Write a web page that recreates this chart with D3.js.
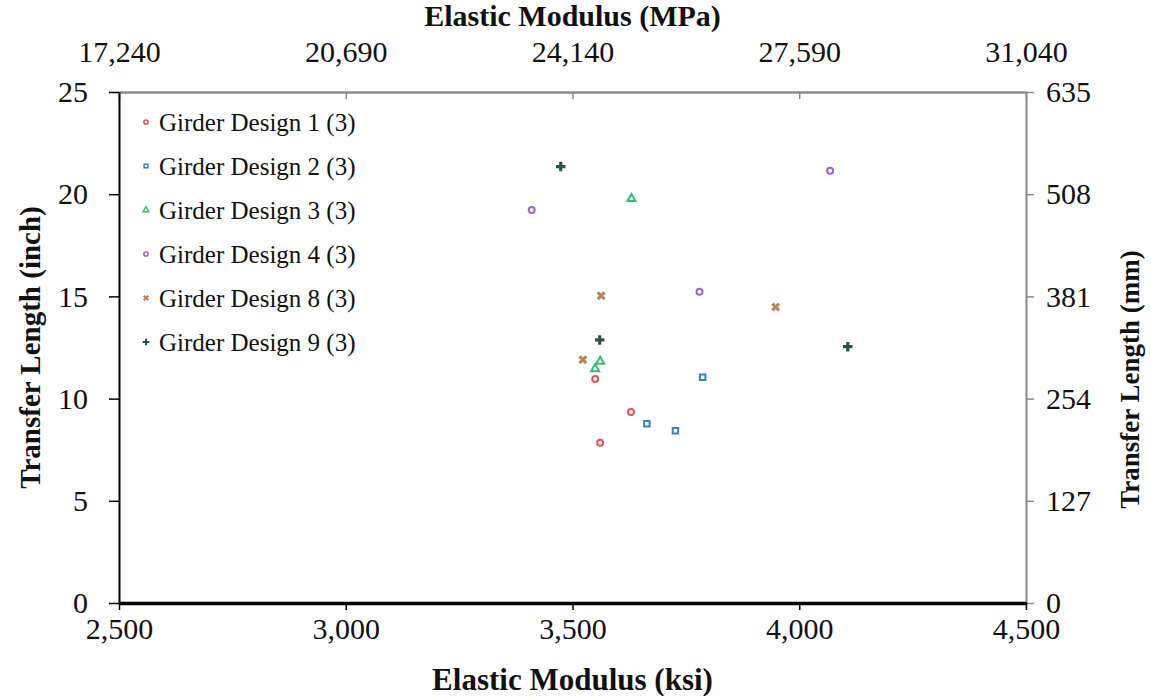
<!DOCTYPE html>
<html>
<head>
<meta charset="utf-8">
<script src="https://cdn.jsdelivr.net/npm/d3@7"></script>
<style>
  body { margin: 0; background: #fff; }
  text { font-family: "Liberation Serif", "Times New Roman", serif; fill: #111; }
</style>
</head>
<body>
<div id="chart"></div>
<script>
// series names and values (ksi, inch)
const seriesNames = ["Girder Design 1 (3)", "Girder Design 2 (3)", "Girder Design 3 (3)",
                     "Girder Design 4 (3)", "Girder Design 8 (3)", "Girder Design 9 (3)"];
const design1 = [[3550, 10.96], [3629, 9.34], [3561, 7.84]];
const design2 = [[3787, 11.04], [3664, 8.77], [3727, 8.43]];
const design3 = [[3630, 19.78], [3561, 11.82], [3550, 11.45]];
const design4 = [[4068, 21.15], [3410, 19.23], [3780, 15.23]];
const design8 = [[3563, 15.03], [3948, 14.48], [3523, 11.9]];
const design9 = [[3474, 21.35], [3560, 12.87], [4107, 12.54]];
const ksiTicks = [2500, 3000, 3500, 4000, 4500];
const mpaTicks = [17240, 20690, 24140, 27590, 31040];
const inchTicks = [0, 5, 10, 15, 20, 25];
const mmTicks = [0, 127, 254, 381, 508, 635];

const allSeries = [design1, design2, design3, design4, design8, design9];
const colors = ["#e0505e", "#3a80c0", "#3cb878", "#9268c0", "#b8835c", "#2f4f4f"];
const symbols = [d3.symbolCircle, d3.symbolSquare, d3.symbolTriangle, d3.symbolCircle, d3.symbolCross, d3.symbolCross];

const W = 1151, H = 696;
const margin = { top: 92, right: 125, bottom: 93, left: 119 };
const width = W - margin.left - margin.right;   // 907
const height = H - margin.top - margin.bottom;  // 511

const svg = d3.select("#chart").append("svg")
    .attr("width", W).attr("height", H);
const g = svg.append("g").attr("transform", `translate(${margin.left},${margin.top})`);

let x = d3.scaleLinear().domain([2500, 4500]).range([0, width]);
let xTop = d3.scaleLinear().domain([17240, 31040]).range([0, width]);
let y = d3.scaleLinear().domain([0, 25]).range([height, 0]);
let yRight = d3.scaleLinear().domain([0, 635]).range([height, 0]);

const fmt = d3.format(",");

function styleAxis(sel, color, lineW) {
    sel.select(".domain").attr("stroke", color).attr("stroke-width", lineW);
    sel.selectAll(".tick line").attr("stroke", color).attr("stroke-width", 1.5);
    sel.selectAll(".tick text")
        .style("font-family", "'Liberation Serif', serif")
        .style("font-size", "30px")
        .attr("fill", "#111");
}

// top axis (gray, ticks pointing inward)
g.append("g")
    .call(d3.axisTop(xTop).tickValues(mpaTicks).tickFormat(fmt).tickSizeInner(-7).tickSizeOuter(0).tickPadding(30))
    .call(s => styleAxis(s, "#8a8a8a", 2.5));

// right axis (gray)
g.append("g").attr("transform", `translate(${width},0)`)
    .call(d3.axisRight(yRight).tickValues(mmTicks).tickSize(8).tickSizeOuter(0).tickPadding(12))
    .call(s => styleAxis(s, "#8a8a8a", 2));

// left axis (black)
g.append("g")
    .call(d3.axisLeft(y).tickValues(inchTicks).tickSize(10).tickSizeOuter(0).tickPadding(21))
    .call(s => styleAxis(s, "#000", 2));

// bottom axis (black, thick)
g.append("g").attr("transform", `translate(0,${height})`)
    .call(d3.axisBottom(x).tickValues(ksiTicks).tickFormat(fmt).tickSize(7).tickSizeOuter(0).tickPadding(8))
    .call(s => styleAxis(s, "#000", 3.5));

// axis titles
svg.append("text")
    .attr("x", margin.left + width / 2).attr("y", 26)
    .attr("text-anchor", "middle")
    .style("font-size", "30px").style("font-weight", "bold")
    .text("Elastic Modulus (MPa)");

svg.append("text")
    .attr("x", margin.left + width / 2).attr("y", 690)
    .attr("text-anchor", "middle")
    .style("font-size", "31px").style("font-weight", "bold")
    .text("Elastic Modulus (ksi)");

svg.append("text")
    .attr("transform", `translate(40,${margin.top + height / 2}) rotate(-90)`)
    .attr("text-anchor", "middle")
    .style("font-size", "29px").style("font-weight", "bold")
    .text("Transfer Length (inch)");

svg.append("text")
    .attr("transform", `translate(1139,${margin.top + height / 2 + 32}) rotate(-90)`)
    .attr("text-anchor", "middle")
    .style("font-size", "27px").style("font-weight", "bold")
    .text("Transfer Length (mm)");

// points
allSeries.forEach((data, i) => {
    let size = i === 1 ? 30 : (i >= 4 ? 50 : 28);
    g.selectAll(".pt" + i)
        .data(data)
        .enter()
        .append("path")
        .attr("class", "pt" + i)
        .attr("transform", d => `translate(${x(d[0])},${y(d[1])})${i === 4 ? " rotate(45)" : ""}`)
        .attr("d", d3.symbol().type(symbols[i]).size(size))
        .attr("fill", i >= 4 ? colors[i] : "none")
        .attr("stroke", colors[i])
        .attr("stroke-width", i >= 4 ? 0 : 2);
});

// legend
let legend = g.append("g").attr("transform", "translate(27,30)");
seriesNames.forEach((name, i) => {
    let row = legend.append("g").attr("transform", `translate(0,${i * 44})`);
    row.append("path")
        .attr("transform", i === 4 ? "rotate(45)" : null)
        .attr("d", d3.symbol().type(symbols[i]).size(i >= 4 ? 24 : 14))
        .attr("fill", i >= 4 ? colors[i] : "none")
        .attr("stroke", colors[i])
        .attr("stroke-width", i >= 4 ? 0 : 1.5);
    row.append("text")
        .attr("x", 13).attr("y", 9)
        .style("font-size", "25px")
        .text(name);
});
</script>
</body>
</html>
